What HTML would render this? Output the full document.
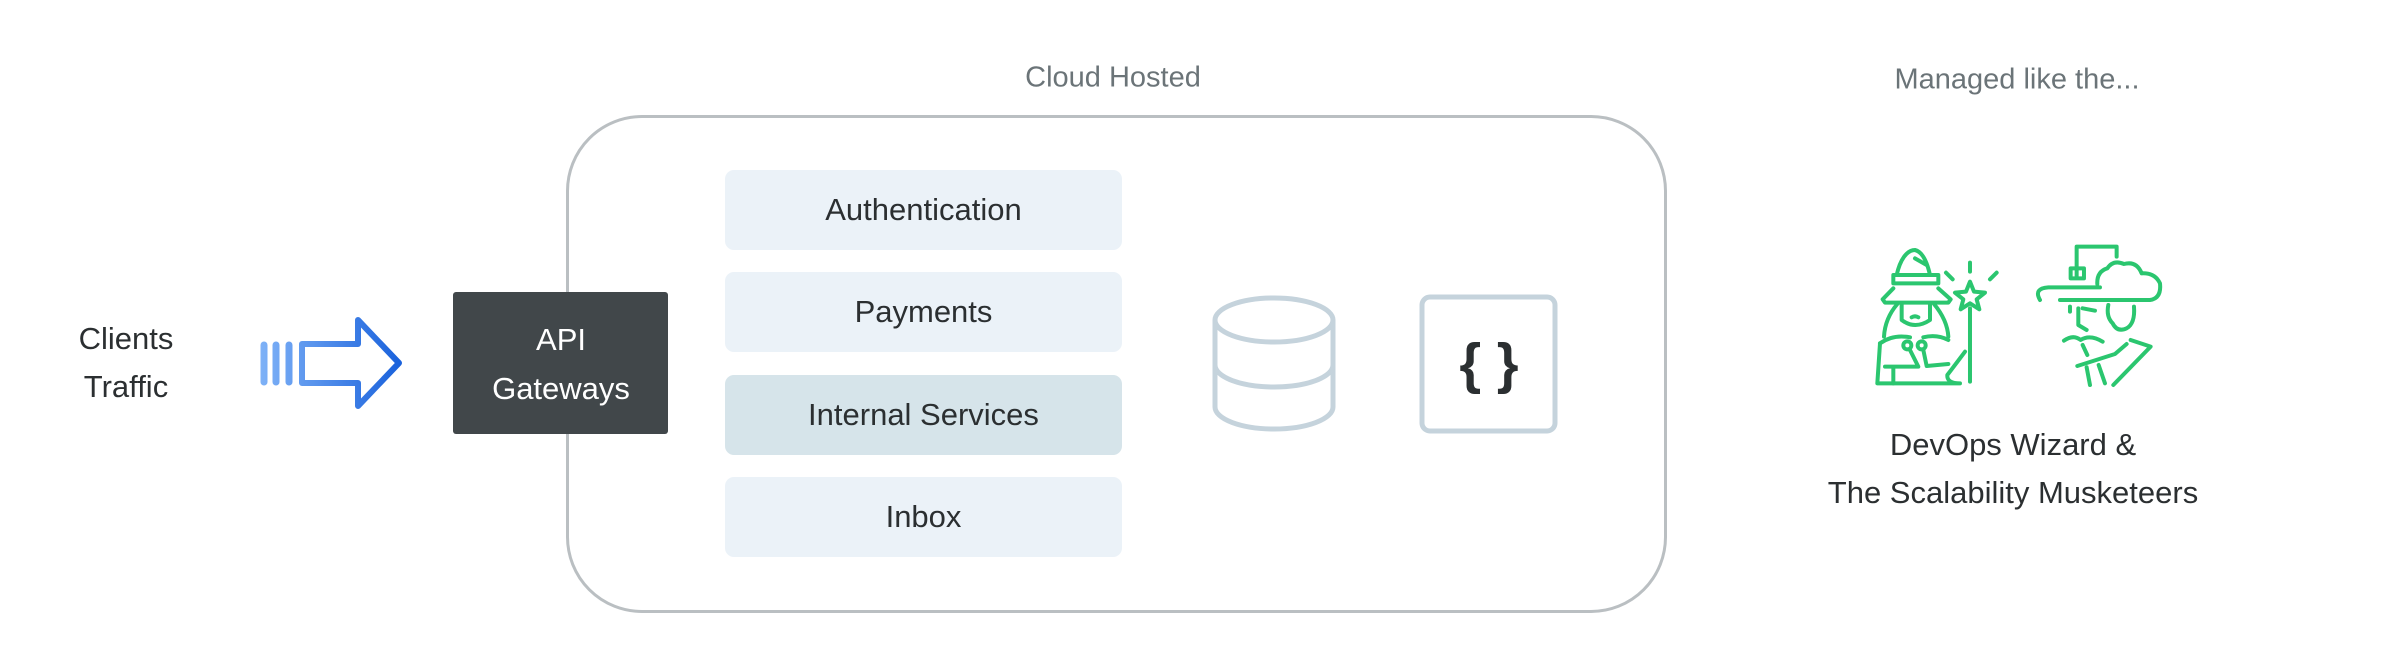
<!DOCTYPE html>
<html><head><meta charset="utf-8"><style>
html,body{margin:0;padding:0;background:#fff;}
body{width:2400px;height:664px;position:relative;overflow:hidden;font-family:"Liberation Sans",sans-serif;}
.t{position:absolute;transform:translate(-50%,-50%);white-space:nowrap;}
.box{position:absolute;left:725px;width:397px;height:80px;border-radius:9px;background:#ebf2f8;display:flex;align-items:center;justify-content:center;font-size:31px;color:#2b2f31;}
</style></head><body>
<div class="t" style="left:1113px;top:78px;font-size:29px;color:#6b7478;">Cloud Hosted</div>
<div class="t" style="left:2017px;top:80px;font-size:29px;color:#6b7478;">Managed like the...</div>
<div style="position:absolute;left:566px;top:115px;width:1095px;height:492px;border:3px solid #babfc2;border-radius:76px;"></div>
<div class="box" style="top:170px;">Authentication</div>
<div class="box" style="top:272px;">Payments</div>
<div class="box" style="top:375px;background:#d6e4ea;">Internal Services</div>
<div class="box" style="top:477px;">Inbox</div>
<div style="position:absolute;left:453px;top:292px;width:215px;height:142px;background:#41474a;border-radius:3px;"></div>
<div class="t" style="left:561px;top:340px;font-size:31px;color:#fff;">API</div>
<div class="t" style="left:561px;top:389px;font-size:31px;color:#fff;">Gateways</div>
<div class="t" style="left:126px;top:339px;font-size:31px;color:#2b2f31;">Clients</div>
<div class="t" style="left:126px;top:387px;font-size:31px;color:#2b2f31;">Traffic</div>
<div class="t" style="left:2013px;top:445px;font-size:31px;color:#2b2f31;">DevOps Wizard &amp;</div>
<div class="t" style="left:2013px;top:493px;font-size:31px;color:#2b2f31;">The Scalability Musketeers</div>
<div class="t" style="left:1489px;top:363px;font-size:56px;font-weight:bold;color:#2b2f31;">{ }</div>
<svg width="2400" height="664" style="position:absolute;left:0;top:0" xmlns="http://www.w3.org/2000/svg">
<defs><linearGradient id="g" gradientUnits="userSpaceOnUse" x1="260" x2="400" y1="0" y2="0"><stop offset="0" stop-color="#7fb2f7"/><stop offset="1" stop-color="#1a62dc"/></linearGradient></defs>
<g stroke="url(#g)" stroke-linecap="round" stroke-linejoin="round" fill="none">
<line x1="264" y1="345" x2="264" y2="382" stroke-width="7"/>
<line x1="276" y1="345" x2="276" y2="382" stroke-width="7"/>
<line x1="289" y1="345" x2="289" y2="382" stroke-width="7"/>
<polygon points="302,344 358,344 358,320 399,363 358,406 358,383 302,383" stroke-width="6"/>
</g>
<g stroke="#c5d3dc" stroke-width="5" fill="none">
<ellipse cx="1274" cy="320" rx="59" ry="22"/>
<path d="M1215,320 V407 A59,22 0 0 0 1333,407 V320"/>
<path d="M1215,365 A59,22 0 0 0 1333,365"/>
<rect x="1422" y="297" width="133" height="134" rx="8"/>
</g>
<g transform="translate(1860,240) scale(0.3333)" stroke="#2bc66f" stroke-width="12" fill="none" stroke-linecap="round" stroke-linejoin="round">
<path d="M110,105 C120,60 140,30 165,30 C185,35 200,60 210,105"/>
<path d="M165,55 L200,75"/>
<rect x="100" y="105" width="135" height="25"/>
<path d="M100,145 L68,178 L75,188 L265,188 L272,178 L235,145"/>
<path d="M125,190 L125,240 Q165,270 210,240 L210,190"/>
<path d="M112,192 Q75,235 72,290 M222,192 Q262,240 265,290"/>
<path d="M60,310 Q100,282 150,292 M265,300 Q230,282 190,292"/>
<path d="M60,310 L52,430 L300,430 Q260,430 262,405 Q285,375 315,335"/>
<path d="M100,385 L100,430 M75,380 L175,380 L150,330 M190,330 L200,378 L265,372"/>
<circle cx="142" cy="316" r="12"/><circle cx="185" cy="316" r="12"/>
<path d="M155,232 Q165,226 175,232"/>
<path d="M330,205 L330,425"/>
<polygon points="330,125 342,155 375,158 350,178 358,208 330,190 302,208 310,178 285,158 318,155"/>
<path d="M330,68 L330,95 M258,98 L278,118 M410,98 L390,118"/>
<path d="M650,110 L650,20 L770,20 L770,50"/>
<rect x="632" y="85" width="40" height="30"/>
<path d="M540,180 Q520,145 565,142 L720,142 M600,180 L870,180 Q905,175 900,130 Q885,98 845,100 Q830,62 792,72 Q760,58 742,85 Q710,95 712,132"/>
<path d="M630,200 L630,215 M655,205 L655,255 L680,270 M668,205 L705,212"/>
<path d="M745,195 Q738,230 758,250 Q772,278 800,265 Q826,250 822,200"/>
<path d="M612,302 Q640,282 662,300 Q690,282 728,305"/>
<path d="M812,300 L872,320 L760,435 M652,378 L765,342 L800,312 M680,382 L690,435 M716,375 L735,430 M668,315 L682,345"/>
</g>
</svg>
</body></html>
